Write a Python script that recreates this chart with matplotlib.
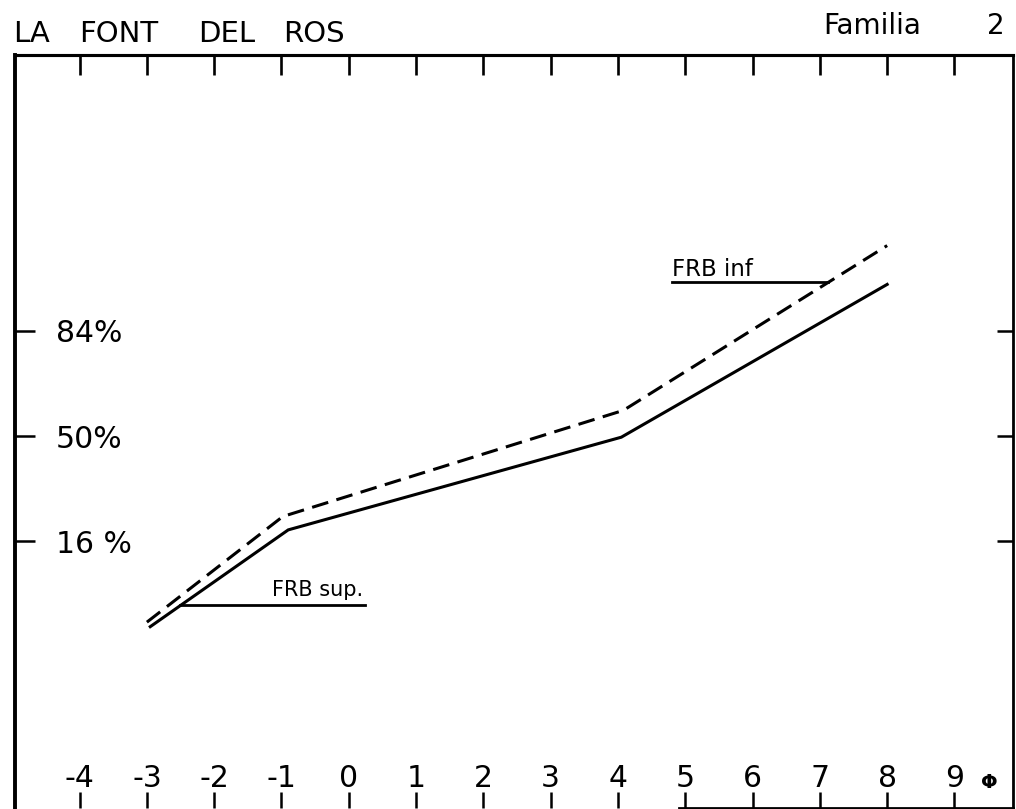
import matplotlib
matplotlib.use('Agg')
import matplotlib.pyplot as plt
import numpy as np
from statistics import NormalDist
from matplotlib.transforms import blended_transform_factory

# ---- data ----
phi_sup = [-2.95, -0.90, 4.05, 8.0]      # solid curve
pct_sup = [3.6, 18.8, 49.6, 92.4]
phi_inf = [-3.0, -0.98, 4.08, 8.0]       # dashed curve
pct_inf = [3.95, 22.4, 59.6, 96.4]
x_ticks = list(range(-4, 10))
x_labels = ['-4', '-3', '-2', '-1', '0', '1', '2', '3', '4', '5', '6', '7', '8', '9']
y_ticks = [16, 50, 84]
y_labels = ['16 %', '50%', '84%']
lead_sup_x = [-2.51, 0.24]
lead_sup_y = [5.54, 5.54]
lead_inf_x = [4.81, 7.12]
lead_inf_y = [92.7, 92.7]

FONT = ['DejaVu Sans']
plt.rcParams['font.family'] = FONT

ND = NormalDist()
_inv = np.vectorize(ND.inv_cdf, otypes=[float])
_cdf = np.vectorize(ND.cdf, otypes=[float])


def fwd(p):
    p = np.clip(np.asarray(p, dtype=float) / 100.0, 1e-9, 1 - 1e-9)
    return _inv(p)


def inv(z):
    return _cdf(np.asarray(z, dtype=float)) * 100.0


W, H = 1016, 809
fig = plt.figure(figsize=(W / 100, H / 100), dpi=100)
ax = fig.add_axes([15 / W, 1 / H, 998 / W, 753 / H])
ax.set_yscale('function', functions=(fwd, inv))
ax.set_xlim(-4.96, 9.87)
ax.set_ylim(0.0223, 99.984)

# curves
ax.plot(phi_sup, pct_sup, color='black', lw=2.2, solid_joinstyle='miter')
ax.plot(phi_inf, pct_inf, color='black', lw=2.2, linestyle=(0, (5.5, 2.8)))

# leader lines and labels
ax.plot(lead_sup_x, lead_sup_y, color='black', lw=2.0)
ax.plot(lead_inf_x, lead_inf_y, color='black', lw=2.0)
ax.text(-1.14, 6.56, 'FRB sup.', fontsize=15, ha='left', va='baseline')
ax.text(4.80, 93.45, 'FRB inf', fontsize=16.5, ha='left', va='baseline')

# spines
for s, lw in [('left', 2.8), ('top', 2.2), ('right', 2.0), ('bottom', 2.0)]:
    ax.spines[s].set_linewidth(lw)
ax.spines['bottom'].set_bounds(4.9, 9.87)

# bottom ticks / labels inside
ax.set_xticks(x_ticks)
ax.set_xticklabels(x_labels)
ax.tick_params(axis='x', direction='in', length=11.5, width=1.8,
               labelsize=21.5, pad=-31.5, bottom=True, top=False)

# left ticks / labels inside
ax.set_yticks(y_ticks)
ax.set_yticklabels(y_labels)
ax.yaxis.set_minor_locator(matplotlib.ticker.NullLocator())
ax.tick_params(axis='y', which='major', direction='in', length=14.5, width=1.8,
               labelsize=21.5, pad=-29.5, left=True, right=False)
for lab in ax.get_yticklabels():
    lab.set_horizontalalignment('left')

# top ticks
sec = ax.secondary_xaxis('top')
sec.set_xticks(x_ticks)
sec.set_xticklabels([])
sec.tick_params(direction='in', length=14.4, width=1.9)
sec.spines['top'].set_linewidth(2.2)

# right ticks
twin = ax.twinx()
twin.set_yscale('function', functions=(fwd, inv))
twin.set_ylim(ax.get_ylim())
twin.set_yticks(y_ticks)
twin.set_yticklabels([])
twin.yaxis.set_minor_locator(matplotlib.ticker.NullLocator())
twin.tick_params(axis='y', direction='in', length=11.5, width=1.8)
for s in twin.spines.values():
    s.set_visible(False)

# phi symbol
tr = blended_transform_factory(ax.transData, ax.transAxes)
ax.text(9.52, 0.0266, 'Φ', transform=tr, fontsize=14, fontweight='bold',
        ha='center', va='baseline')

# titles
for word, xp in [('LA', 13), ('FONT', 79), ('DEL', 198), ('ROS', 283)]:
    fig.text(xp / W, 1 - 42 / H, word, fontsize=21, ha='left', va='baseline')
fig.text(823 / W, 1 - 34 / H, 'Familia', fontsize=20, ha='left', va='baseline')
fig.text(987 / W, 1 - 34 / H, '2', fontsize=20, ha='left', va='baseline')

fig.savefig('out.png', dpi=100)
